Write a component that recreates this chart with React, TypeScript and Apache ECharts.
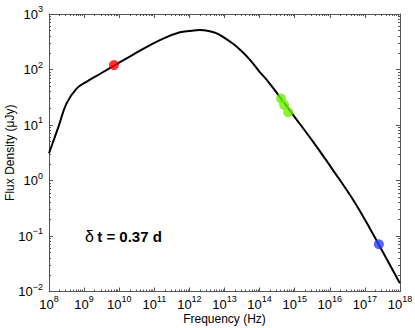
import React, { useEffect, useRef } from "react";
import * as echarts from "echarts";

// Model curve: [frequency (Hz), flux density (µJy)]
const curveFreq = [1e8, 1.86e8, 3.16e8, 6.2e8, 1.17e9, 2.8e9, 7.1e9, 2.5e10, 7.6e10, 2e11, 5.4e11, 1e12, 2e12, 3.5e12, 6e12, 1e13, 1.8e13, 3.2e13, 5.4e13, 1e14, 1.6e14, 3.4e14, 9.1e14, 3.4e15, 1.26e16, 4.7e16, 1.4e17, 9.5e17, 1e18];
const curveFlux = [3.1, 9.3, 24.5, 45.7, 60, 83, 117, 186, 275, 372, 468, 495, 513, 495, 447, 372, 288, 209, 148, 91, 65, 35, 15.1, 4.9, 1.51, 0.44, 0.135, 0.0148, 0.0141];

// Observations
const radioFreq = [7.1e9];
const radioFlux = [120];
const opticalFreq = [4.1e14, 5e14, 6.5e14];
const opticalFlux = [30, 23, 17];
const xrayFreq = [2.5e17];
const xrayFlux = [0.071];

const xDecades = [8, 9, 10, 11, 12, 13, 14, 15, 16, 17, 18];
const yDecades = [-2, -1, 0, 1, 2, 3];
const annotation = "t = 0.37 d";
const xName = "Frequency (Hz)";
const yName = "Flux Density (\u03bcJy)";

const FONT = "Liberation Sans, Arial, Helvetica, sans-serif";
const AXIS_COLOR = "#555555";

// keep end values a hair inside the extent so they pass the axis' range filter
const majorVals = (decs: number[]) =>
  decs.map((d, i) => Math.pow(10, d) * (i === decs.length - 1 ? 1 - 1e-9 : i === 0 ? 1 + 1e-9 : 1));
const minorVals = (decs: number[]) => {
  const out: number[] = [];
  for (let i = 0; i < decs.length - 1; i++) {
    for (let k = 2; k <= 9; k++) out.push(k * Math.pow(10, decs[i]));
  }
  return out;
};

const labelFormatter = (v: number) => {
  const e = Math.round(Math.log10(v));
  const s = e < 0 ? "\u2212" + Math.abs(e) : String(e);
  return `{b|10}{s|${s}}`;
};
const labelRich = {
  b: { fontSize: 13, fontFamily: FONT, color: "#000", lineHeight: 13 },
  s: { fontSize: 9, fontFamily: FONT, color: "#000", lineHeight: 9, padding: [0, 0, 10, 0] },
};

export default function App() {
  const ref = useRef<HTMLDivElement>(null);
  useEffect(() => {
    if (!ref.current) return;
    const chart = echarts.init(ref.current, undefined, { renderer: "svg" });
    const xMin = Math.pow(10, xDecades[0]);
    const xMax = Math.pow(10, xDecades[xDecades.length - 1]);
    const yMin = Math.pow(10, yDecades[0]);
    const yMax = Math.pow(10, yDecades[yDecades.length - 1]);

    const mkX = (position: string, major: boolean, labels: boolean) => ({
      type: "log",
      logBase: 10,
      min: xMin,
      max: xMax,
      position,
      axisLine: { show: major, onZero: false, lineStyle: { color: AXIS_COLOR, width: 1 } },
      axisTick: {
        show: true,
        inside: true,
        length: major ? 4 : 2,
        customValues: major ? majorVals(xDecades) : minorVals(xDecades),
        lineStyle: { color: AXIS_COLOR, width: 1 },
      },
      axisLabel: labels
        ? { show: true, customValues: majorVals(xDecades), formatter: labelFormatter, rich: labelRich, margin: 6, showMinLabel: true, showMaxLabel: true, hideOverlap: false }
        : { show: false },
      splitLine: { show: false },
      name: labels ? xName : "",
      nameLocation: "middle",
      nameGap: 21,
      nameMoveOverlap: false,
      nameTextStyle: { fontSize: 12, fontFamily: FONT, color: "#000" },
    });
    const mkY = (position: string, major: boolean, labels: boolean) => ({
      type: "log",
      logBase: 10,
      min: yMin,
      max: yMax,
      position,
      axisLine: { show: major, onZero: false, lineStyle: { color: AXIS_COLOR, width: 1 } },
      axisTick: {
        show: true,
        inside: true,
        length: major ? 4 : 2,
        customValues: major ? majorVals(yDecades) : minorVals(yDecades),
        lineStyle: { color: AXIS_COLOR, width: 1 },
      },
      axisLabel: labels
        ? { show: true, customValues: majorVals(yDecades), formatter: labelFormatter, rich: labelRich, margin: 6, showMinLabel: true, showMaxLabel: true, hideOverlap: false }
        : { show: false },
      splitLine: { show: false },
      name: labels ? yName : "",
      nameLocation: "middle",
      nameGap: 33,
      nameMoveOverlap: false,
      nameTextStyle: { fontSize: 12, fontFamily: FONT, color: "#000" },
    });

    const curve = curveFreq.map((f, i) => [f, curveFlux[i]]);
    const pts = (fs: number[], vs: number[]) => fs.map((f, i) => [f, vs[i]]);

    chart.setOption({
      animation: false,
      backgroundColor: "#ffffff",
      grid: { left: 49, right: 15, top: 14, bottom: 36.5, containLabel: false, outerBoundsMode: "none" },
      xAxis: [mkX("bottom", true, true), mkX("bottom", false, false), mkX("top", true, false), mkX("top", false, false)],
      yAxis: [mkY("left", true, true), mkY("left", false, false), mkY("right", true, false), mkY("right", false, false)],
      series: [
        {
          type: "line",
          data: curve,
          smooth: 0.4,
          showSymbol: false,
          symbol: "none",
          lineStyle: { color: "#000", width: 2 },
          xAxisIndex: 0,
          yAxisIndex: 0,
          z: 2,
        },
        {
          type: "scatter",
          data: pts(radioFreq, radioFlux),
          symbolSize: 10,
          itemStyle: { color: "#ff0000" },
          z: 3,
        },
        {
          type: "scatter",
          data: pts(opticalFreq, opticalFlux),
          symbolSize: 10,
          itemStyle: { color: "#6ef000" },
          z: 3,
        },
        {
          type: "scatter",
          data: pts(xrayFreq, xrayFlux),
          symbolSize: 10,
          itemStyle: { color: "#2a3cff" },
          z: 3,
        },
      ],
      graphic: [
        {
          type: "text",
          left: 85,
          top: 228,
          style: {
            text: "{d|\u03b4} {t|" + annotation + "}",
            rich: {
              d: { fontSize: 16, fontFamily: FONT, fill: "#000", fontWeight: "normal" },
              t: { fontSize: 15, fontFamily: FONT, fill: "#000", fontWeight: "bold" },
            },
          },
        },
      ],
    });
    return () => chart.dispose();
  }, []);
  return <div ref={ref} style={{ position: "fixed", left: 0, top: 0, width: 415, height: 328 }} />;
}
